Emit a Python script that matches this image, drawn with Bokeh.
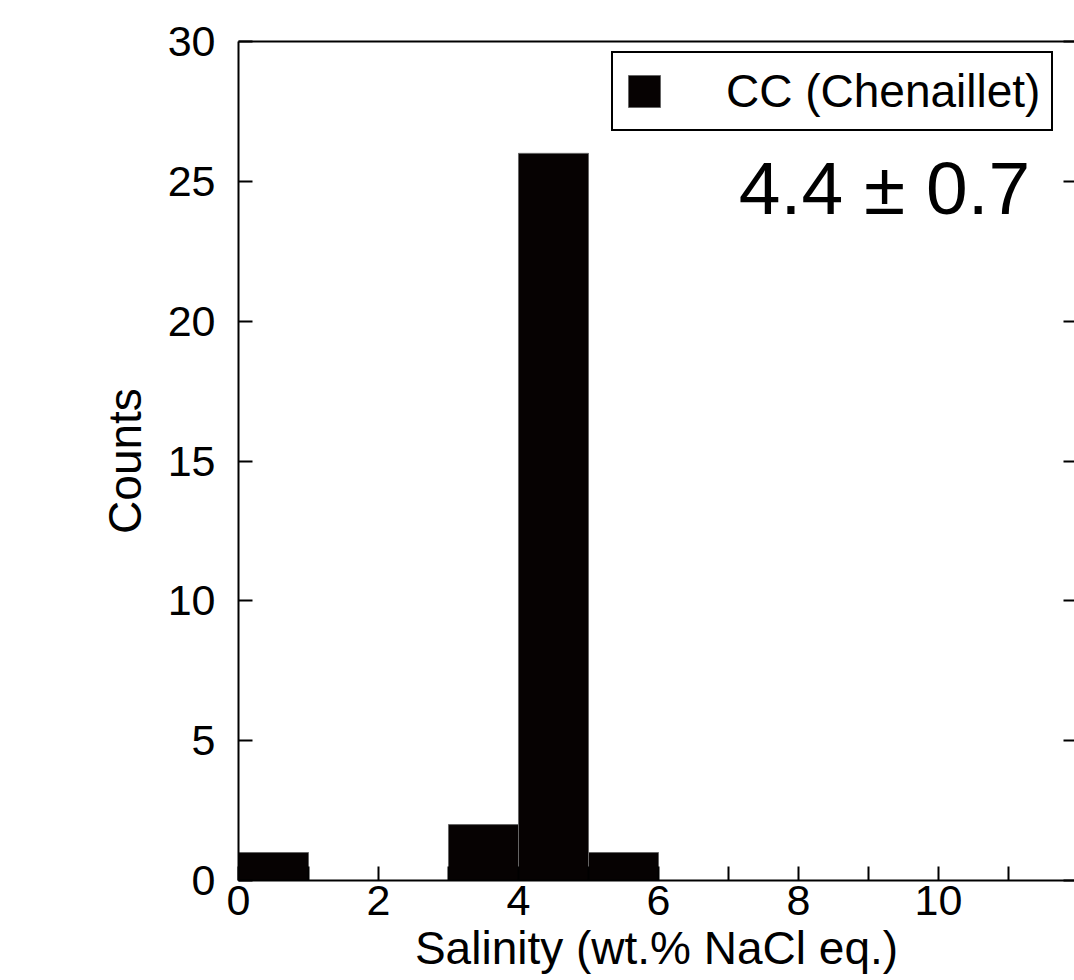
from bokeh.plotting import figure
from bokeh.models import (ColumnDataSource, LinearAxis, FixedTicker, Range1d,
                          Legend, LegendItem, Label)
from bokeh.embed import file_html
from bokeh.resources import INLINE

# ---- data ----
bin_left = [0, 1, 2, 3, 4, 5, 6, 7, 8, 9, 10, 11]
bin_right = [1, 2, 3, 4, 5, 6, 7, 8, 9, 10, 11, 12]
counts = [1, 0, 0, 2, 26, 1, 0, 0, 0, 0, 0, 0]
series_name = "CC (Chenaillet)"
stat_text = "4.4 ± 0.7"
x_label = "Salinity (wt.% NaCl eq.)"
y_label = "Counts"
x_major = [0, 2, 4, 6, 8, 10, 12]
x_minor = [1, 3, 5, 7, 9, 11]
y_major = [0, 5, 10, 15, 20, 25, 30]

FONT = "Liberation Sans"

src = ColumnDataSource(dict(left=bin_left, right=bin_right,
                            top=counts, bottom=[0] * len(counts)))

p = figure(frame_width=836, frame_height=839,
           x_range=Range1d(0, 11.943), y_range=Range1d(0, 30),
           output_backend="svg", toolbar_location=None,
           x_axis_location=None, y_axis_location=None)
p.min_border_left = 238
p.min_border_top = 41
p.min_border_bottom = 100
p.min_border_right = 0
p.outline_line_color = None
p.xgrid.visible = False
p.ygrid.visible = False
p.background_fill_color = "white"
p.border_fill_color = "white"

bars = p.quad(left="left", right="right", top="top", bottom="bottom", source=src,
              fill_color="#060202", line_color="#666666", line_width=1)

def style(ax):
    ax.axis_line_color = "black"
    ax.axis_line_width = 2
    ax.major_tick_line_color = "black"
    ax.major_tick_line_width = 2
    ax.minor_tick_line_color = "black"
    ax.minor_tick_line_width = 2
    ax.major_tick_in = 14
    ax.major_tick_out = 0
    ax.minor_tick_in = 14
    ax.minor_tick_out = 0
    ax.major_label_text_font = FONT
    ax.major_label_text_font_size = "43px"
    ax.major_label_text_color = "black"
    ax.axis_label_text_font = FONT
    ax.axis_label_text_font_size = "46px"
    ax.axis_label_text_font_style = "normal"
    ax.axis_label_text_color = "black"

xb = LinearAxis(ticker=FixedTicker(ticks=x_major, minor_ticks=x_minor),
                axis_label=x_label)
style(xb)
xb.major_label_standoff = 5
xb.axis_label_standoff = 4
p.add_layout(xb, "below")

yl = LinearAxis(ticker=FixedTicker(ticks=y_major), axis_label=y_label)
style(yl)
yl.minor_tick_line_color = None
yl.major_label_standoff = 23
yl.axis_label_standoff = 14
p.add_layout(yl, "left")

yr = LinearAxis(ticker=FixedTicker(ticks=y_major),
                major_label_overrides={t: "" for t in y_major})
style(yr)
yr.axis_line_color = None
yr.minor_tick_line_color = None
yr.major_tick_in = 11
yr.major_label_standoff = 0
p.add_layout(yr, "right")

xt = LinearAxis(ticker=FixedTicker(ticks=[]))
style(xt)
xt.major_tick_line_color = None
xt.minor_tick_line_color = None
xt.major_label_standoff = 0
p.add_layout(xt, "above")

legend = Legend(items=[LegendItem(label=series_name, renderers=[bars])],
                location=(373, 749), margin=0, padding=11,
                glyph_width=40, glyph_height=40, label_standoff=62,
                label_text_font=FONT, label_text_font_size="46px",
                label_text_color="black",
                border_line_color="black", border_line_width=2,
                border_line_alpha=1.0,
                background_fill_alpha=1.0)
p.add_layout(legend, "center")

p.add_layout(Label(x=11.31, y=24.75, text=stat_text, text_align="right",
                   text_baseline="alphabetic", text_font=FONT,
                   text_font_size="75px", text_color="black"))

open("out.html", "w").write(file_html(p, INLINE))
